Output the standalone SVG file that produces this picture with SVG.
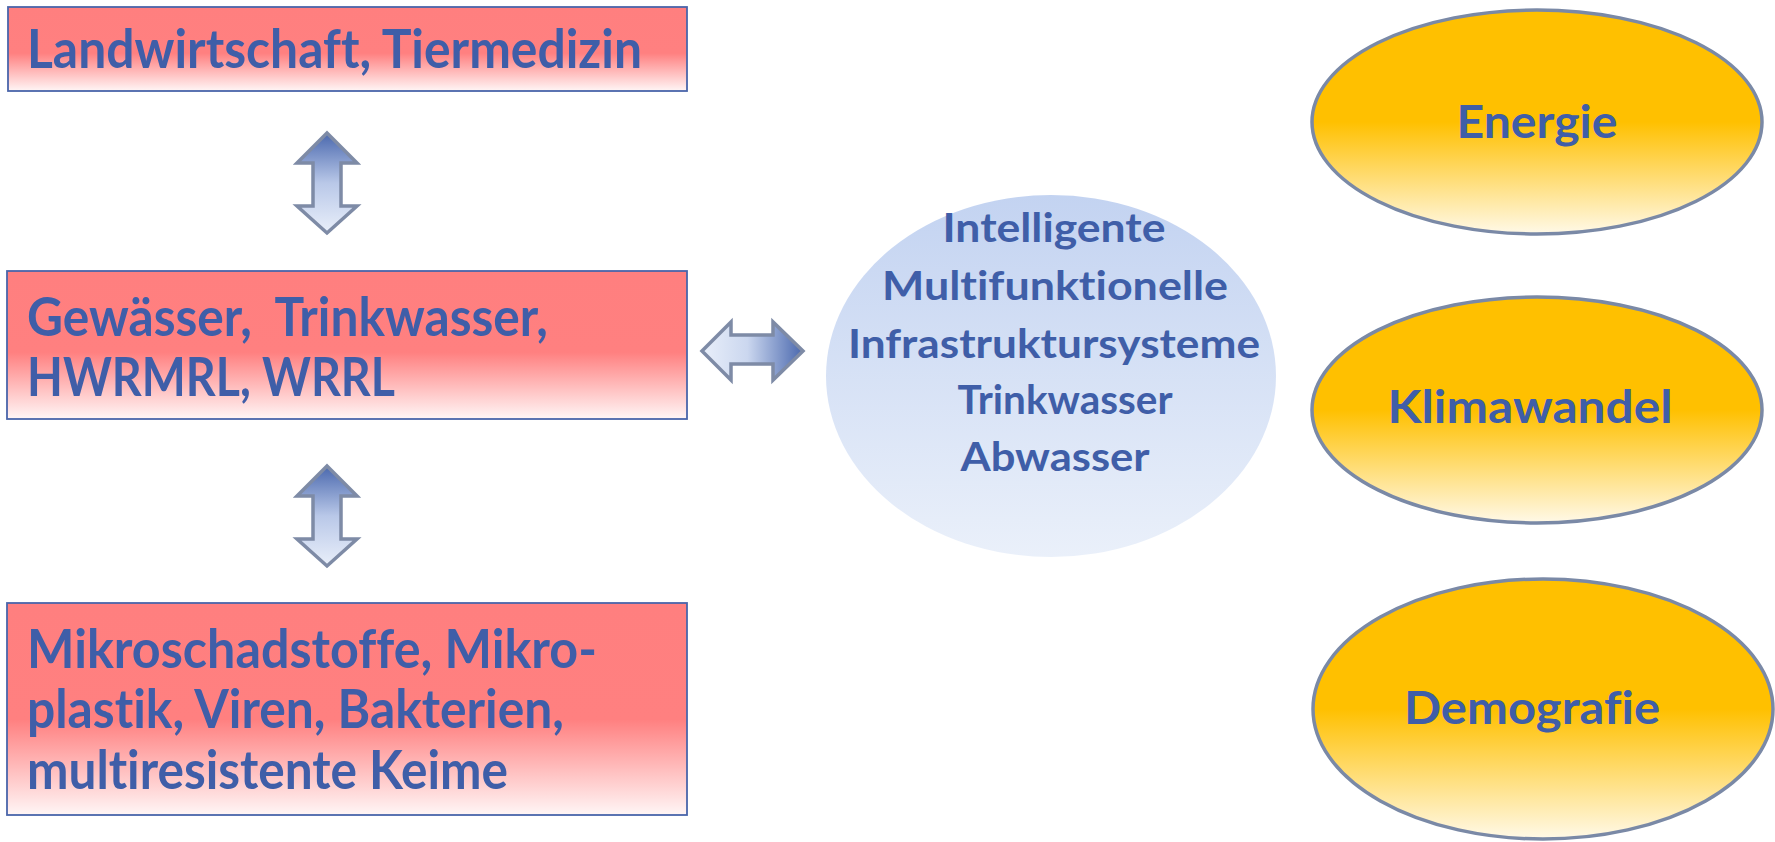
<svg xmlns="http://www.w3.org/2000/svg" width="1775" height="842" viewBox="0 0 1775 842">
<defs>
<linearGradient id="gRed" x1="0" y1="0" x2="0" y2="1">
<stop offset="0" stop-color="#FF7F7F"/>
<stop offset="0.55" stop-color="#FF8080"/>
<stop offset="1" stop-color="#FFF6F6"/>
</linearGradient>
<linearGradient id="gYel" x1="0" y1="0" x2="0" y2="1">
<stop offset="0" stop-color="#FFC000"/>
<stop offset="0.5" stop-color="#FFC000"/>
<stop offset="1" stop-color="#FFF9E8"/>
</linearGradient>
<linearGradient id="gBlue" x1="0" y1="0" x2="0" y2="1">
<stop offset="0" stop-color="#C3D3F1"/>
<stop offset="1" stop-color="#EAF0FA"/>
</linearGradient>
<linearGradient id="gArrV" x1="0" y1="0" x2="0" y2="1">
<stop offset="0" stop-color="#4A68AE"/>
<stop offset="0.5" stop-color="#B9C8E8"/>
<stop offset="1" stop-color="#E9EFFA"/>
</linearGradient>
<linearGradient id="gArrH" x1="0" y1="0" x2="1" y2="0">
<stop offset="0" stop-color="#E9EFFA"/>
<stop offset="0.45" stop-color="#CBD7EF"/>
<stop offset="1" stop-color="#4A68AE"/>
</linearGradient>
<style>
.box{fill:url(#gRed);stroke:#4A65AA;stroke-width:1.8}
.ell{fill:url(#gYel);stroke:#7A89A6;stroke-width:3.5}
.arr{stroke:#7E8BA6;stroke-width:3.5;stroke-linejoin:miter}
.t{font-family:Lato,"Open Sans","Liberation Sans",sans-serif;font-weight:bold;fill:#3F5EA8;font-variant-ligatures:none;white-space:pre}
.tb{font-size:53px}
.tc{font-size:41px;text-anchor:middle}
.te{font-size:46px;text-anchor:middle}
</style>
</defs>
<g id="connectors">
<path class="arr" fill="url(#gArrV)" d="M327,133 L357,163 L341,163 L341,206 L357,206 L327,233 L297,206 L313,206 L313,163 L297,163 Z"/>
<path class="arr" fill="url(#gArrV)" d="M327,466 L357,496 L341,496 L341,539 L357,539 L327,566 L297,539 L313,539 L313,496 L297,496 Z"/>
<path class="arr" fill="url(#gArrH)" d="M702,351 L731,322 L731,335 L773,335 L773,322 L803,351 L773,380 L773,364 L731,364 L731,380 Z"/>
</g>
<g id="box-landwirtschaft">
<rect class="box" x="8" y="7" width="679" height="84"/>
<text class="t tb" x="27" y="68" textLength="615" lengthAdjust="spacingAndGlyphs">Landwirtschaft, Tiermedizin</text>
</g>
<g id="box-gewaesser">
<rect class="box" x="7" y="271" width="680" height="148"/>
<text class="t tb" x="27" y="336" textLength="521" lengthAdjust="spacingAndGlyphs" xml:space="preserve">Gewässer,  Trinkwasser,</text>
<text class="t tb" x="27" y="396" textLength="368" lengthAdjust="spacingAndGlyphs">HWRMRL, WRRL</text>
</g>
<g id="box-mikro">
<rect class="box" x="7" y="603" width="680" height="212"/>
<text class="t tb" x="27" y="668" textLength="570" lengthAdjust="spacingAndGlyphs">Mikroschadstoffe, Mikro-</text>
<text class="t tb" x="27" y="728" textLength="537" lengthAdjust="spacingAndGlyphs">plastik, Viren, Bakterien,</text>
<text class="t tb" x="27" y="789" textLength="481" lengthAdjust="spacingAndGlyphs">multiresistente Keime</text>
</g>
<g id="center">
<ellipse cx="1051" cy="376" rx="225" ry="181" fill="url(#gBlue)"/>
<text class="t tc" x="1054" y="242" textLength="223" lengthAdjust="spacingAndGlyphs">Intelligente</text>
<text class="t tc" x="1055" y="300" textLength="346" lengthAdjust="spacingAndGlyphs">Multifunktionelle</text>
<text class="t tc" x="1054" y="358" textLength="412" lengthAdjust="spacingAndGlyphs">Infrastruktursysteme</text>
<text class="t tc" x="1065" y="414" textLength="215" lengthAdjust="spacingAndGlyphs">Trinkwasser</text>
<text class="t tc" x="1055" y="471" textLength="189" lengthAdjust="spacingAndGlyphs">Abwasser</text>
</g>
<g id="energie">
<ellipse class="ell" cx="1537" cy="122" rx="225" ry="112"/>
<text class="t te" x="1537" y="138" textLength="161" lengthAdjust="spacingAndGlyphs">Energie</text>
</g>
<g id="klimawandel">
<ellipse class="ell" cx="1537" cy="410" rx="225" ry="113"/>
<text class="t te" x="1530" y="423" textLength="285" lengthAdjust="spacingAndGlyphs">Klimawandel</text>
</g>
<g id="demografie">
<ellipse class="ell" cx="1543" cy="709" rx="230" ry="130"/>
<text class="t te" x="1532" y="724" textLength="256" lengthAdjust="spacingAndGlyphs">Demografie</text>
</g>
</svg>
